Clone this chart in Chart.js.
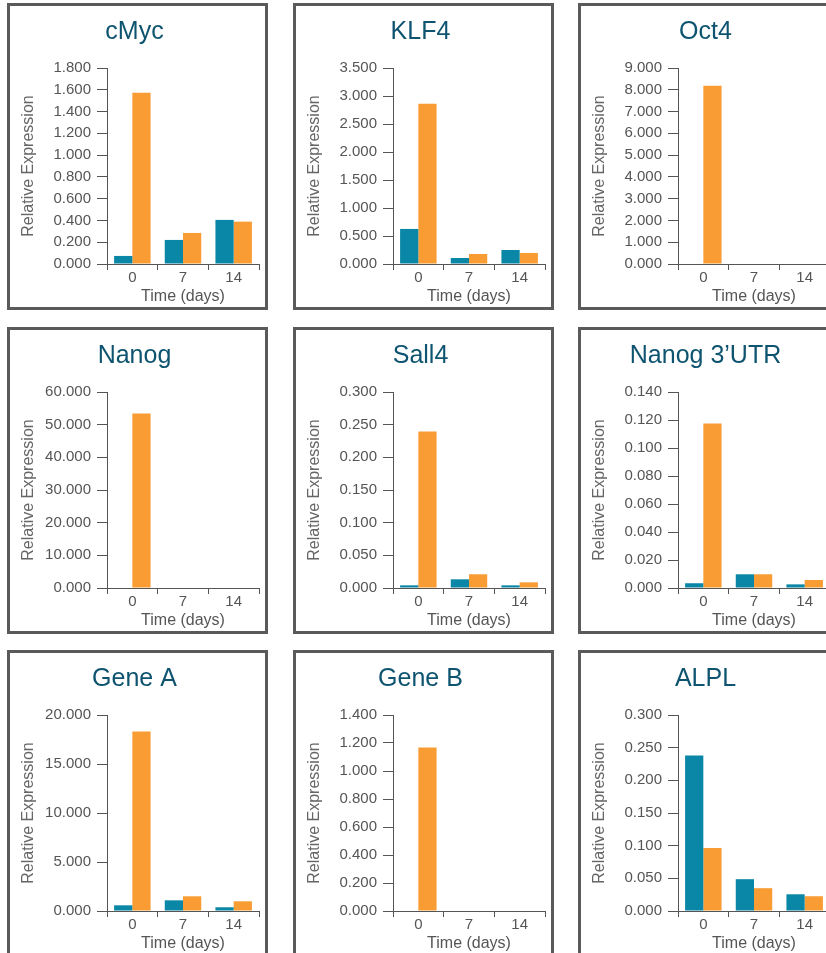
<!DOCTYPE html>
<html>
<head>
<meta charset="utf-8">
<script src="https://cdn.jsdelivr.net/npm/chart.js@4.4.0/dist/chart.umd.min.js"></script>
<style>
  html, body { margin: 0; padding: 0; background: #fff; overflow: hidden; width: 826px; height: 953px; }
  .panel { position: absolute; width: 255px; height: 301px; border: 3px solid #5a5a5a; background: #fff; }
  .panel canvas { display: block; }
</style>
</head>
<body>
<div id="grid"></div>
<script>
// Dados
const days = ['0', '7', '14'];
const genes = ['cMyc', 'KLF4', 'Oct4', 'Nanog', 'Sall4', 'Nanog 3\u2019UTR', 'Gene A', 'Gene B', 'ALPL'];
const axisMax = [1.8, 3.5, 9, 60, 0.3, 0.14, 20, 1.4, 0.3];
const axisStep = [0.2, 0.5, 1, 10, 0.05, 0.02, 5, 0.2, 0.05];
const tealValues = [
  [0.074, 0.221, 0.405],
  [0.626, 0.107, 0.250],
  [0, 0, 0],
  [0, 0, 0],
  [0.0041, 0.0133, 0.0041],
  [0.0034, 0.0098, 0.0026],
  [0.58, 1.09, 0.38],
  [0, 0, 0],
  [0.238, 0.0487, 0.0256]
];
const orangeValues = [
  [1.573, 0.285, 0.389],
  [2.862, 0.179, 0.197],
  [8.19, 0, 0],
  [53.4, 0, 0],
  [0.2395, 0.021, 0.0087],
  [0.1175, 0.0098, 0.0057],
  [18.32, 1.50, 0.99],
  [1.168, 0, 0],
  [0.0964, 0.0349, 0.0226]
];

const FONT = 'Arial, "Liberation Sans", Helvetica, sans-serif';
const colLeft = [7, 293, 578];
const rowTop = [3, 327, 650];

const grid = document.getElementById('grid');

genes.forEach((gene, i) => {
  const panel = document.createElement('div');
  panel.className = 'panel';
  panel.style.left = colLeft[i % 3] + 'px';
  panel.style.top = rowTop[Math.floor(i / 3)] + 'px';
  const canvas = document.createElement('canvas');
  canvas.width = 255;
  canvas.height = 301;
  panel.appendChild(canvas);
  grid.appendChild(panel);

  new Chart(canvas.getContext('2d'), {
    type: 'bar',
    data: {
      labels: days,
      datasets: [
        { data: tealValues[i], backgroundColor: '#0a87a6', borderWidth: 0 },
        { data: orangeValues[i], backgroundColor: '#f99c33', borderWidth: 0 }
      ]
    },
    options: {
      responsive: false,
      animation: false,
      devicePixelRatio: 1,
      categoryPercentage: 0.72,
      barPercentage: 1.0,
      layout: { padding: { left: 0, right: 6, top: 0, bottom: 0 } },
      plugins: {
        legend: { display: false },
        tooltip: { enabled: false },
        title: {
          display: true,
          text: gene,
          color: '#0e5470',
          font: { family: FONT, size: 25, weight: 'normal', lineHeight: 1.2 },
          padding: { top: 11, bottom: 21 }
        }
      },
      scales: {
        x: {
          offset: true,
          grid: { offset: true, drawOnChartArea: false, tickLength: 6, color: '#555' },
          border: { display: true, color: '#555', width: 1 },
          ticks: { color: '#555', padding: 0, font: { family: FONT, size: 15, lineHeight: 1.1 } },
          title: {
            display: true,
            text: 'Time (days)',
            color: '#555',
            font: { family: FONT, size: 16, lineHeight: 1 },
            padding: { top: 2.5, bottom: 2 }
          }
        },
        y: {
          min: 0,
          max: axisMax[i],
          grid: { drawOnChartArea: false, tickLength: 10, color: '#555' },
          border: { display: true, color: '#555', width: 1 },
          ticks: {
            stepSize: axisStep[i],
            color: '#555',
            padding: 6,
            font: { family: FONT, size: 15 },
            callback: v => Number(v).toFixed(3)
          },
          title: {
            display: true,
            text: 'Relative Expression',
            color: '#666',
            font: { family: FONT, size: 16, lineHeight: 1 },
            padding: { top: 11, bottom: 0 }
          },
          afterFit(scale) { scale.width = 97; }
        }
      }
    }
  });
});
</script>
</body>
</html>
